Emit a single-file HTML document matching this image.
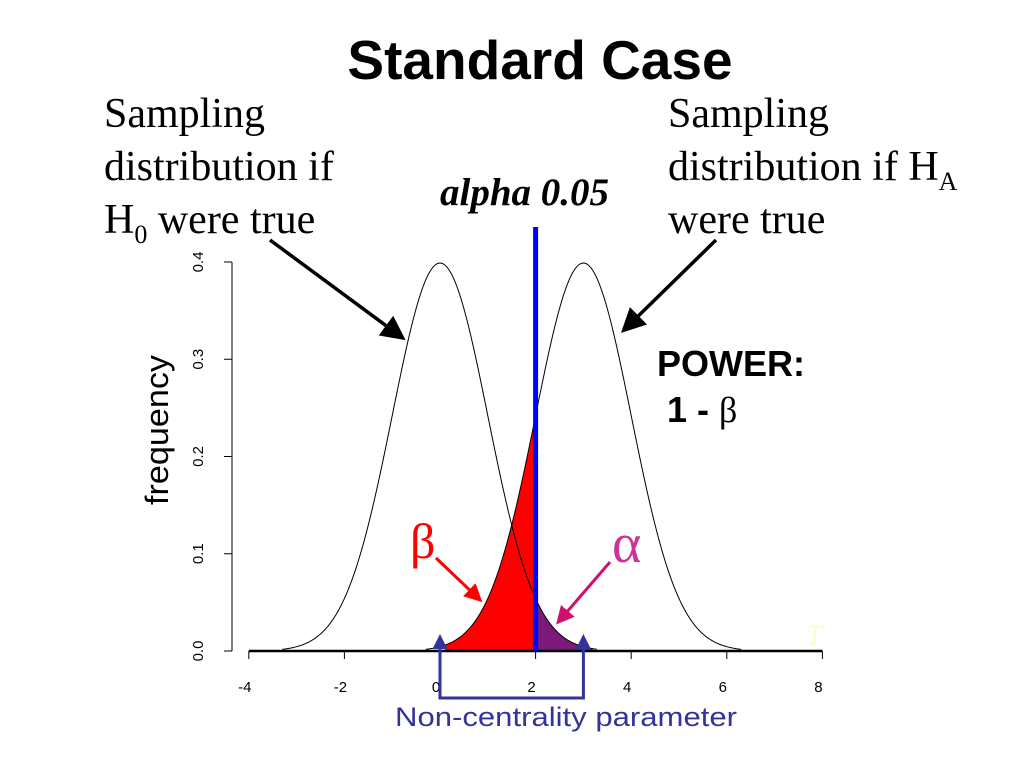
<!DOCTYPE html>
<html><head><meta charset="utf-8"><style>
body{margin:0;width:1024px;height:768px;background:#fff;overflow:hidden;font-family:"Liberation Serif",serif}
.t{position:absolute;white-space:nowrap}
sub{font-size:26px;vertical-align:baseline;position:relative;top:10px;line-height:0}
</style></head><body>
<div class="t" style="left:0;width:1080px;text-align:center;top:28px;font:bold 55px 'Liberation Sans',sans-serif">Standard Case</div>
<div class="t" style="left:104px;top:88px;font-size:42px;line-height:53px">Sampling<br>distribution if<br>H<sub>0</sub> were true</div>
<div class="t" style="left:668px;top:88px;font-size:42px;line-height:53px">Sampling<br>distribution if H<sub>A</sub><br>were true</div>
<div class="t" style="left:440px;top:170px;font:italic bold 39px 'Liberation Serif',serif">alpha 0.05</div>
<div class="t" style="left:657px;top:341px;font:bold 36px 'Liberation Sans',sans-serif;line-height:46px">POWER:<br>&nbsp;1 - <span style="font-family:'Liberation Serif',serif;font-weight:normal">β</span></div>
<svg id="c" width="1024" height="768" style="position:absolute;left:0;top:0"></svg>
<script>
const xTicks=[-4,-2,0,2,4,6,8];
const yTicks=[0.0,0.1,0.2,0.3,0.4];
const means=[0,3];
const critical=[2];
const sd=[1];
const X=v=>440+v*47.8, Y=v=>651-v*972.5;
const ns="http://www.w3.org/2000/svg", svg=document.getElementById('c');
function mk(t,a,txt){const e=document.createElementNS(ns,t);for(const k in a)e.setAttribute(k,a[k]);if(txt!=null)e.textContent=txt;svg.appendChild(e);return e;}
const pdf=(x,m)=>Math.exp(-0.5*((x-m)/sd[0])**2)/Math.sqrt(2*Math.PI)/sd[0];
function area(m,a,b){let d=`M${X(a)},${Y(0)}`;for(let x=a;x<=b+1e-9;x+=0.02)d+=` L${X(x)},${Y(pdf(x,m))}`;return d+` L${X(b)},${Y(0)}Z`;}
let e;
e=mk('path',{d:area(means[1],0.1,critical[0]),fill:'#ff0000'});
e=mk('path',{d:area(means[0],critical[0],3.2),fill:'#7b1a7b'});
means.forEach((m,i)=>{let d='';for(let x=m-3.3;x<=m+3.3;x+=0.02)d+=(d?' L':'M')+X(x)+','+Y(pdf(x,m));
 e=mk('path',{d,fill:'none',stroke:'#000','stroke-width':1});});
e=mk('line',{x1:X(-4),x2:X(8),y1:Y(0),y2:Y(0),stroke:'#000','stroke-width':2.5});
xTicks.forEach(v=>{mk('line',{x1:X(v),x2:X(v),y1:Y(0),y2:Y(0)+8,stroke:'#000'});
 e=mk('text',{x:X(v)-4,y:692,'text-anchor':'middle','font-family':'Liberation Sans','font-size':15},v);});
e=mk('line',{x1:232,x2:232,y1:Y(0),y2:Y(0.4),stroke:'#000'});
yTicks.forEach(v=>{mk('line',{x1:224,x2:232,y1:Y(v),y2:Y(v),stroke:'#000'});
 e=mk('text',{x:0,y:0,transform:`translate(203,${Y(v)}) rotate(-90)`,'text-anchor':'middle','font-family':'Liberation Sans','font-size':15},v.toFixed(1));});
e=mk('text',{x:0,y:0,transform:'translate(168,430) rotate(-90)','text-anchor':'middle','font-family':'Liberation Sans','font-size':32,textLength:150,lengthAdjust:'spacingAndGlyphs'},'frequency');
e=mk('line',{x1:X(critical[0]),x2:X(critical[0]),y1:227,y2:Y(0),stroke:'#0000ff','stroke-width':5});
mk('defs',{}).innerHTML='<marker id="ab" markerWidth="7" markerHeight="7" refX="5" refY="3.5" orient="auto"><path d="M0,0L7,3.5L0,7Z" fill="#000"/></marker><marker id="ar" markerWidth="6" markerHeight="6" refX="4" refY="3" orient="auto"><path d="M0,0L6,3L0,6Z" fill="#f00"/></marker><marker id="am" markerWidth="6" markerHeight="6" refX="4" refY="3" orient="auto"><path d="M0,0L6,3L0,6Z" fill="#d0106a"/></marker><marker id="an" markerWidth="5" markerHeight="5" refX="3" refY="2.5" orient="auto"><path d="M0,0L5,2.5L0,5Z" fill="#333399"/></marker>';
e=mk('line',{x1:270,x2:400,y1:240,y2:336,stroke:'#000','stroke-width':3.5,'marker-end':'url(#ab)'});
e=mk('line',{x1:716,x2:626,y1:240,y2:328,stroke:'#000','stroke-width':3.5,'marker-end':'url(#ab)'});
e=mk('text',{x:410,y:558,'font-size':50,fill:'#f00','font-family':'Liberation Serif'},'β');
e=mk('line',{x1:436,x2:478,y1:558,y2:598,stroke:'#f00','stroke-width':3,'marker-end':'url(#ar)'});
e=mk('text',{x:612,y:562,'font-size':56,fill:'#cc3399','font-family':'Liberation Serif'},'α');
e=mk('line',{x1:610,x2:560,y1:562,y2:620,stroke:'#d0106a','stroke-width':3,'marker-end':'url(#am)'});
e=mk('path',{d:`M${X(0)},650 L${X(0)},698 L${X(3)},698 L${X(3)},650`,fill:'none',stroke:'#333399','stroke-width':3});
mk('line',{x1:X(0),x2:X(0),y1:652,y2:640,stroke:'#333399','stroke-width':3,'marker-end':'url(#an)'});
mk('line',{x1:X(3),x2:X(3),y1:652,y2:640,stroke:'#333399','stroke-width':3,'marker-end':'url(#an)'});
e=mk('text',{x:395,y:726,'font-family':'Liberation Sans','font-size':27,fill:'#333399',textLength:342,lengthAdjust:'spacingAndGlyphs'},'Non-centrality parameter');
e=mk('text',{x:806,y:645,'font-family':'Liberation Serif','font-style':'italic','font-size':30,fill:'#fffbd0'},'T');
</script>
</body></html>
